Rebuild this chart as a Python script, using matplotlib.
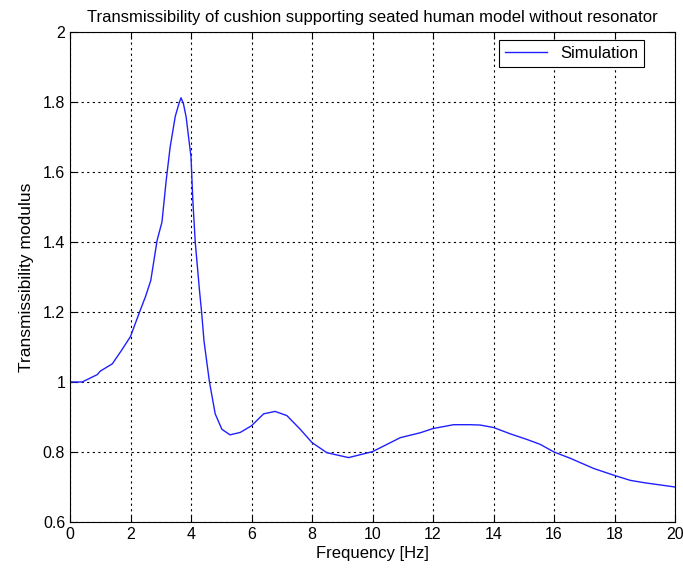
import numpy as np
import matplotlib.pyplot as plt

# Values
freq = [0.0, 0.4, 0.9, 1.0, 1.4, 1.7, 2.0, 2.3, 2.5, 2.67, 2.88, 3.04, 3.18, 3.31, 3.48, 3.6, 3.67,
        3.75, 3.84, 4.0, 4.06, 4.14, 4.28, 4.35, 4.43, 4.61, 4.8, 5.02, 5.29, 5.63, 6.0, 6.4,
        6.78, 7.17, 7.61, 8.0, 8.49, 9.21, 10.0, 10.92, 11.58, 12.0, 12.68, 13.23, 13.56,
        14.0, 14.55, 15.1, 15.54, 16.0, 16.54, 17.31, 18.0, 18.52, 19.0, 19.5, 20.0]
trans = [1.0, 1.0, 1.021, 1.031, 1.052, 1.09, 1.13, 1.2, 1.245, 1.29, 1.405, 1.457, 1.576, 1.671,
         1.759, 1.795, 1.812, 1.795, 1.757, 1.643, 1.52, 1.4, 1.262, 1.2, 1.117, 1.0, 0.909,
         0.865, 0.849, 0.856, 0.875, 0.909, 0.916, 0.904, 0.865, 0.827, 0.798, 0.784, 0.801,
         0.841, 0.855, 0.867, 0.878, 0.878, 0.877, 0.870, 0.852, 0.836, 0.822, 0.80, 0.782,
         0.753, 0.733, 0.719, 0.712, 0.706, 0.70]

plt.rcParams['font.family'] = ['Liberation Sans', 'DejaVu Sans']

fig = plt.figure(figsize=(6.83, 5.71), dpi=100)
ax = fig.add_axes([70 / 683, 1 - 522 / 571, 605 / 683, 490 / 571])

ax.plot(freq, trans, color='#2020ff', linewidth=1.0, label='Simulation')

ax.set_xlim(0, 20)
ax.set_ylim(0.6, 2)
ax.set_xticks(np.arange(0, 21, 2))
ax.set_yticks(np.arange(0.6, 2.01, 0.2))
ax.set_yticklabels(['0.6', '0.8', '1', '1.2', '1.4', '1.6', '1.8', '2'])
ax.tick_params(direction='in', top=True, right=True, labelsize=11.5, length=5, width=0.8)
ax.grid(True, color='black', linestyle=(0, (2, 3)), linewidth=0.8)
for s in ax.spines.values():
    s.set_linewidth(0.8)

ax.set_title('Transmissibility of cushion supporting seated human model without resonator',
             fontsize=12, pad=7)
ax.set_xlabel('Frequency [Hz]', fontsize=12, labelpad=3)
ax.set_ylabel('Transmissibility modulus', fontsize=12.5, labelpad=6)

leg = ax.legend(loc='upper right', bbox_to_anchor=(574 / 605, 482 / 490), borderaxespad=0,
                fancybox=False, edgecolor='black', framealpha=1, fontsize=12,
                handlelength=2.5, borderpad=0.35)
leg.get_frame().set_linewidth(0.8)

fig.savefig('out.png', dpi=100)
